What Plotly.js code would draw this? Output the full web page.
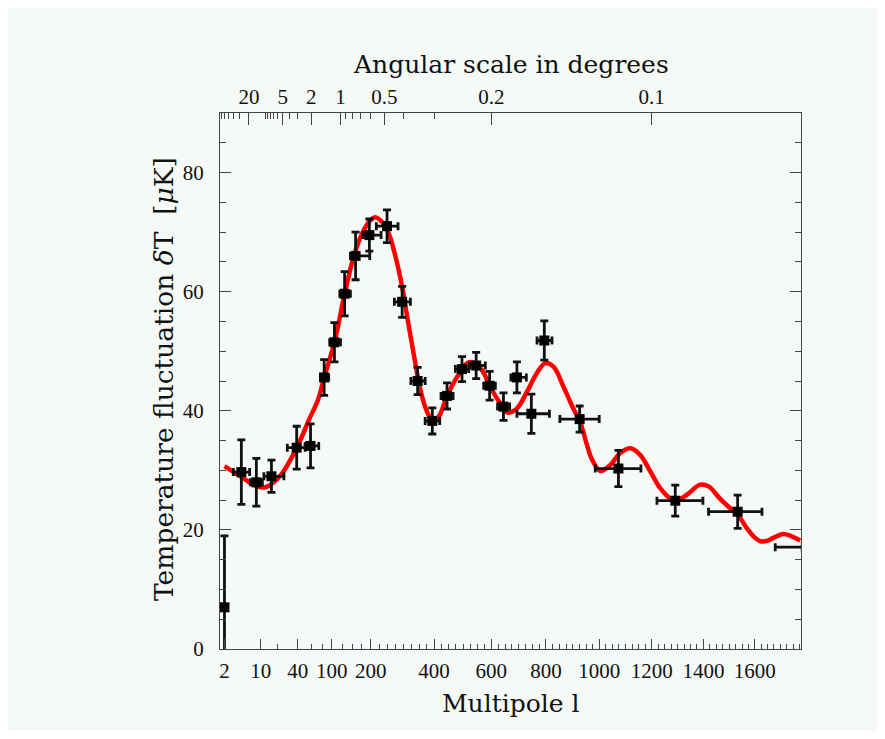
<!DOCTYPE html>
<html>
<head>
<meta charset="utf-8">
<script src="https://cdn.plot.ly/plotly-3.0.1.min.js"></script>
<style>html,body{margin:0;padding:0;background:#fff;}</style>
</head>
<body>
<div id="chart" style="width:885px;height:739px;"></div>
<script>
// ---- measured data (WMAP-style angular power spectrum) ----
const ell   = [2, 4.3, 8.3, 15.5, 38.8, 59, 84, 106, 130, 158, 196, 248, 295, 345, 394, 444, 496, 546, 594, 644, 693, 746, 794, 926, 1073, 1291, 1533, 1800];
const dT    = [7.0, 29.7, 28.0, 29.0, 33.8, 34.1, 45.6, 51.5, 59.65, 66.0, 69.5, 71.0, 58.3, 45.0, 38.3, 42.5, 47.0, 47.6, 44.2, 40.7, 45.6, 39.5, 51.8, 38.6, 30.3, 24.9, 23.05, 17.1];
const dTerr = [12, 5.4, 4, 2.7, 3.6, 3.7, 3, 3.3, 3.7, 4, 2.7, 2.75, 2.6, 2.3, 2.2, 2.2, 2.1, 2.2, 2.4, 2.3, 2.6, 3.3, 3.3, 2.2, 3.05, 2.6, 2.8, 3];
const ellLo = [2, 3.0, 6.4, 11.4, 28.2, 50.5, 76.7, 95.6, 118.5, 144.5, 178, 216, 270.7, 323, 370, 423.5, 473, 523, 572.7, 622.6, 671, 693, 767, 852, 985, 1220.5, 1420, 1680];
const ellHi = [2, 6.2, 10.7, 25, 50.5, 73.5, 93.4, 120, 144.5, 197, 230, 282, 321.5, 370, 419, 465, 519.5, 578.7, 614.7, 666.4, 727.5, 813, 822.5, 1000, 1159, 1398, 1628, 1920];

// model curve
const curveL = [2, 4.1, 8, 12, 16, 23.4, 33.4, 43.7, 56, 72, 84, 106, 130, 153, 176, 199, 213, 233, 253, 274, 295, 313, 332, 352, 374, 393, 415, 444, 479, 514, 537, 567, 597, 632, 659, 693, 730, 767, 798, 828, 866, 903, 926, 954, 973, 1004, 1042, 1080, 1118, 1156, 1195, 1233, 1271, 1297, 1336, 1387, 1420, 1465, 1500, 1533, 1570, 1600, 1622, 1650, 1674, 1710, 1740, 1778];
const curveT = [30.7, 29.0, 27.4, 27.15, 27.8, 29.5, 32.3, 35.1, 38.4, 41.8, 45.6, 51.5, 59.6, 65.9, 69.8, 72.0, 72.5, 71.7, 69.8, 65.9, 60.8, 55.2, 49.6, 44.0, 40.1, 38.5, 39.0, 42.5, 45.7, 48.0, 48.1, 46.8, 44.0, 41.25, 39.7, 40.4, 43.2, 46.4, 48.0, 47.4, 44.0, 40.3, 38.4, 34.2, 31.8, 29.9, 30.9, 32.9, 33.7, 32.6, 29.8, 27.0, 25.3, 25.0, 25.9, 27.6, 27.3, 25.2, 23.8, 22.6, 20.2, 18.7, 18.1, 18.2, 18.7, 19.3, 19.0, 18.2];

// axis ticks
const botMajor = [2, 10, 40, 100, 200, 400, 600, 800, 1000, 1200, 1400, 1600];
const botLabels = ['2', '10', '40', '100', '200', '400', '600', '800', '1000', '1200', '1400', '1600'];
const botMinorLow = [20, 60, 80];
const topDeg = [20, 5, 2, 1, 0.5, 0.2, 0.1];
const topLabels = ['20', '5', '2', '1', '0.5', '0.2', '0.1'];
const topMinorDeg = [70, 60, 50, 40, 30, 10, 9, 8, 7, 6, 4, 3, 0.9, 0.8, 0.7, 0.6, 0.4, 0.3];
const yTicks = [0, 20, 40, 60, 80];

// ---- multipole axis mapping (log-like at low l, linear at high l) ----
const K = 88;
const u = l => l + K * Math.log(l);
const degToEll = d => 120 / d;

const botMinor = botMinorLow.slice();
for (let l = 125; l <= 1775; l += 25) { if (l % 200 !== 0) botMinor.push(l); }

const xr = [u(1.63), u(1781)];
const ux = ell.map(u);
const errPlus = ell.map((l, i) => u(ellHi[i]) - u(l));
const errMinus = ell.map((l, i) => u(l) - u(ellLo[i]));

const tickFont = {family: 'Liberation Serif, serif', size: 21, color: '#111'};
const titleFont = {family: 'DejaVu Serif, serif', size: 25, color: '#111'};
const yTitleFont = {family: 'DejaVu Serif, serif', size: 26.5, color: '#111'};
const axCol = '#444';

const traces = [
  {x: curveL.map(u), y: curveT, mode: 'lines', type: 'scatter',
   line: {color: '#ff0000', width: 4.5, shape: 'spline', smoothing: 1}, hoverinfo: 'skip'},
  {x: ux, y: dT, mode: 'markers', type: 'scatter',
   marker: {symbol: 'square', size: 10, color: '#000'},
   error_y: {type: 'data', array: dTerr, color: '#111', thickness: 2.8, width: 4},
   error_x: {type: 'data', symmetric: false, array: errPlus, arrayminus: errMinus, color: '#111', thickness: 2.8, width: 4},
   hoverinfo: 'skip'},
  {x: [u(100)], y: [-50], xaxis: 'x2', mode: 'markers', marker: {opacity: 0}, hoverinfo: 'skip'}
];

const layout = {
  width: 885, height: 739,
  margin: {l: 220, r: 84, t: 113, b: 90, pad: 0},
  paper_bgcolor: '#ffffff', plot_bgcolor: '#f6faf7',
  showlegend: false, hovermode: false,
  xaxis: {range: xr, tickmode: 'array', tickvals: botMajor.map(u), ticktext: botLabels,
    ticks: 'inside', ticklen: 10, tickwidth: 1, tickcolor: axCol,
    showline: true, linecolor: axCol, linewidth: 1, mirror: true,
    showgrid: false, zeroline: false, tickfont: tickFont, ticklabelstandoff: 3,
    minor: {tickmode: 'array', tickvals: botMinor.map(u), ticks: 'inside', ticklen: 5, tickcolor: axCol, showgrid: false}},
  xaxis2: {range: xr, overlaying: 'x', side: 'top', anchor: 'y', tickmode: 'array',
    tickvals: topDeg.map(d => u(degToEll(d))), ticktext: topLabels,
    ticks: 'inside', ticklen: 12, tickwidth: 1, tickcolor: axCol,
    showline: true, linecolor: axCol, linewidth: 1,
    showgrid: false, zeroline: false, tickfont: tickFont, ticklabelstandoff: 0,
    minor: {tickmode: 'array', tickvals: topMinorDeg.map(d => u(degToEll(d))), ticks: 'inside', ticklen: 6, tickcolor: axCol, showgrid: false}},
  yaxis: {range: [0, 90], tickmode: 'array', tickvals: yTicks, ticktext: yTicks.map(String),
    ticks: 'inside', ticklen: 11, tickwidth: 1, tickcolor: axCol,
    showline: true, linecolor: axCol, linewidth: 1, mirror: 'ticks',
    showgrid: false, zeroline: false, tickfont: tickFont, ticklabelstandoff: 11,
    minor: {dtick: 5, ticks: 'inside', ticklen: 6, tickcolor: axCol, showgrid: false}},
  shapes: [{type: 'rect', xref: 'paper', yref: 'paper', layer: 'below',
    x0: (8 - 220) / 581, x1: (877 - 220) / 581, y0: (649 - 731) / 536, y1: (649 - 8) / 536,
    fillcolor: '#f6faf7', line: {width: 0}}],
  annotations: [
    {text: 'Angular scale in degrees', xref: 'paper', yref: 'paper', x: 0.5, y: (649 - 65) / 536,
     xanchor: 'center', yanchor: 'middle', showarrow: false, font: titleFont},
    {text: 'Multipole l', xref: 'paper', yref: 'paper', x: 0.5, y: (649 - 703) / 536,
     xanchor: 'center', yanchor: 'middle', showarrow: false, font: titleFont},
    {text: 'Temperature fluctuation <i>δ</i>T\u00a0\u00a0[<i>μ</i>K]', xref: 'paper', yref: 'paper',
     x: (163 - 220) / 581, y: (649 - 379) / 536, xanchor: 'center', yanchor: 'middle', textangle: -90,
     showarrow: false, font: yTitleFont}
  ]
};

Plotly.newPlot('chart', traces, layout, {displayModeBar: false, staticPlot: true});
</script>
</body>
</html>
